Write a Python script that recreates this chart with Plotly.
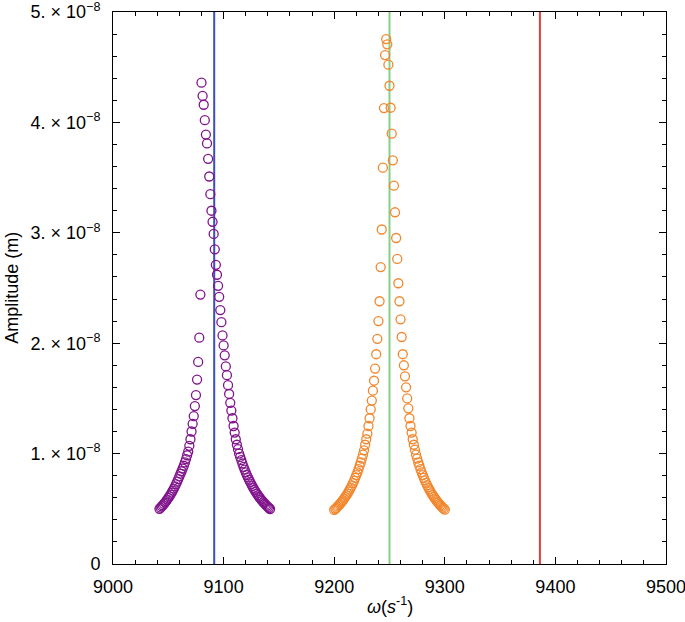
import plotly.graph_objects as go

# ---- data (amplitudes in units of 1e-8 m) ----
omega_purple = list(range(9042, 9143))
amp_purple_e8 = [
    # 9042 - 9067
    0.500, 0.510, 0.521, 0.532, 0.544, 0.556, 0.569, 0.583, 0.598, 0.613,
    0.629, 0.646, 0.664, 0.683, 0.703, 0.724, 0.746, 0.769, 0.793, 0.818,
    0.84, 0.865, 0.89, 0.92, 0.95, 0.985,
    # 9068 - 9079
    1.017, 1.07, 1.13, 1.20, 1.27, 1.34, 1.43, 1.53, 1.67, 1.83, 2.05, 2.44,
    # 9080 - 9111
    4.36, 4.24, 4.16, 4.02, 3.89, 3.81, 3.67, 3.51, 3.35, 3.20,
    3.10, 2.99, 2.85, 2.71, 2.62, 2.52, 2.42, 2.30, 2.19, 2.07,
    1.98, 1.89, 1.79, 1.71, 1.62, 1.54, 1.46, 1.39, 1.32, 1.25,
    1.19, 1.13,
    # 9112 - 9142
    1.08, 1.04, 1.00, 0.97, 0.94, 0.91, 0.88, 0.855, 0.83, 0.806,
    0.784, 0.763, 0.743, 0.724, 0.705, 0.687, 0.670, 0.654, 0.638, 0.623,
    0.609, 0.596, 0.583, 0.571, 0.559, 0.548, 0.537, 0.527, 0.517, 0.507,
    0.498,
]

omega_orange = list(range(9200, 9301))
amp_orange_e8 = [
    # 9200 - 9231
    0.491, 0.500, 0.509, 0.519, 0.530, 0.541, 0.553, 0.566, 0.579, 0.593,
    0.607, 0.622, 0.638, 0.655, 0.673, 0.692, 0.712, 0.733, 0.755, 0.78,
    0.805, 0.83, 0.86, 0.89, 0.92, 0.955, 0.99, 1.03, 1.08, 1.13,
    1.18, 1.25,
    # 9232 - 9247
    1.32, 1.40, 1.48, 1.57, 1.66, 1.77, 1.90, 2.04, 2.20, 2.38,
    2.69, 3.03, 3.59, 4.13, 4.61, 4.755,
    # 9248 - 9268
    4.707, 4.523, 4.332, 4.133, 3.898, 3.657, 3.427, 3.186, 2.953, 2.763,
    2.543, 2.380, 2.216, 2.056, 1.90, 1.80, 1.70, 1.60, 1.50, 1.41,
    1.32,
    # 9269 - 9300
    1.25, 1.19, 1.13, 1.08, 1.035, 0.99, 0.955, 0.92, 0.89, 0.86,
    0.83, 0.805, 0.78, 0.757, 0.735, 0.714, 0.694, 0.675, 0.657, 0.640,
    0.624, 0.609, 0.594, 0.580, 0.567, 0.555, 0.543, 0.532, 0.521, 0.511,
    0.501, 0.492,
]

vlines_x = [9091.5, 9250, 9386]
vlines_colors = ["rgb(58,78,190)", "rgb(135,205,135)", "rgb(222,62,52)"]

x_ticks = [9000, 9100, 9200, 9300, 9400, 9500]
y_ticks = [0, 1e-8, 2e-8, 3e-8, 4e-8, 5e-8]
y_ticktext = ["0", "1. × 10<sup>−8</sup>", "2. × 10<sup>−8</sup>", "3. × 10<sup>−8</sup>",
              "4. × 10<sup>−8</sup>", "5. × 10<sup>−8</sup>"]
y_range = [-0.0002e-8, 5.0002e-8]
x_range = [8999.98, 9500.02]
line_y = [0, 5e-8]

amp_purple = [a * 1e-8 for a in amp_purple_e8]
amp_orange = [a * 1e-8 for a in amp_orange_e8]

FONT = "Liberation Sans, Arial, sans-serif"

fig = go.Figure()

for xv, col in zip(vlines_x, vlines_colors):
    fig.add_trace(go.Scatter(x=[xv, xv], y=line_y, mode="lines",
                             line=dict(color=col, width=2), showlegend=False,
                             hoverinfo="skip"))

fig.add_trace(go.Scatter(x=omega_purple, y=amp_purple, mode="markers",
                         marker=dict(symbol="circle-open", size=9,
                                     color="rgb(128,20,140)",
                                     line=dict(width=1.3, color="rgb(128,20,140)")),
                         showlegend=False))
fig.add_trace(go.Scatter(x=omega_orange, y=amp_orange, mode="markers",
                         marker=dict(symbol="circle-open", size=9,
                                     color="rgb(242,135,45)",
                                     line=dict(width=1.3, color="rgb(242,135,45)")),
                         showlegend=False))

fig.update_xaxes(range=x_range, tickvals=x_ticks, ticks="inside", ticklen=7,
                 tickcolor="black", tickwidth=1, showline=True, linecolor="black",
                 linewidth=1, mirror="allticks", showgrid=False, zeroline=False,
                 tickfont=dict(family=FONT, size=18, color="black"),
                 ticklabelstandoff=6, ticklabeloverflow="allow", automargin=False,
                 minor=dict(ticks="inside", ticklen=4, dtick=20, tick0=9000,
                            tickcolor="black", showgrid=False))
fig.update_yaxes(range=y_range, tickvals=y_ticks, ticktext=y_ticktext,
                 ticks="inside", ticklen=7, tickcolor="black", tickwidth=1,
                 showline=True, linecolor="black", linewidth=1,
                 mirror="allticks", showgrid=False, zeroline=False,
                 tickfont=dict(family=FONT, size=18, color="black"),
                 ticklabelstandoff=8, ticklabeloverflow="allow", automargin=False,
                 minor=dict(ticks="inside", ticklen=4, dtick=0.2e-8, tick0=0,
                            tickcolor="black", showgrid=False))

fig.add_annotation(text="<i>ω</i>(<i>s</i><sup>-1</sup>)", xref="paper", yref="paper",
                   x=0.5, y=-0.076, xanchor="center", yanchor="middle",
                   showarrow=False, font=dict(family=FONT, size=18, color="black"))
fig.add_annotation(text="Amplitude (m)", xref="paper", yref="paper",
                   x=-0.183, y=0.5, xanchor="center", yanchor="middle", textangle=-90,
                   showarrow=False, font=dict(family=FONT, size=18, color="black"))

fig.update_layout(width=685, height=622,
                  margin=dict(l=113, r=19, t=12, b=58, autoexpand=False),
                  plot_bgcolor="white", paper_bgcolor="white")

fig.write_html("out.html", config={"displayModeBar": False},
               post_script="document.body.style.margin='0';document.body.style.overflow='hidden';")
